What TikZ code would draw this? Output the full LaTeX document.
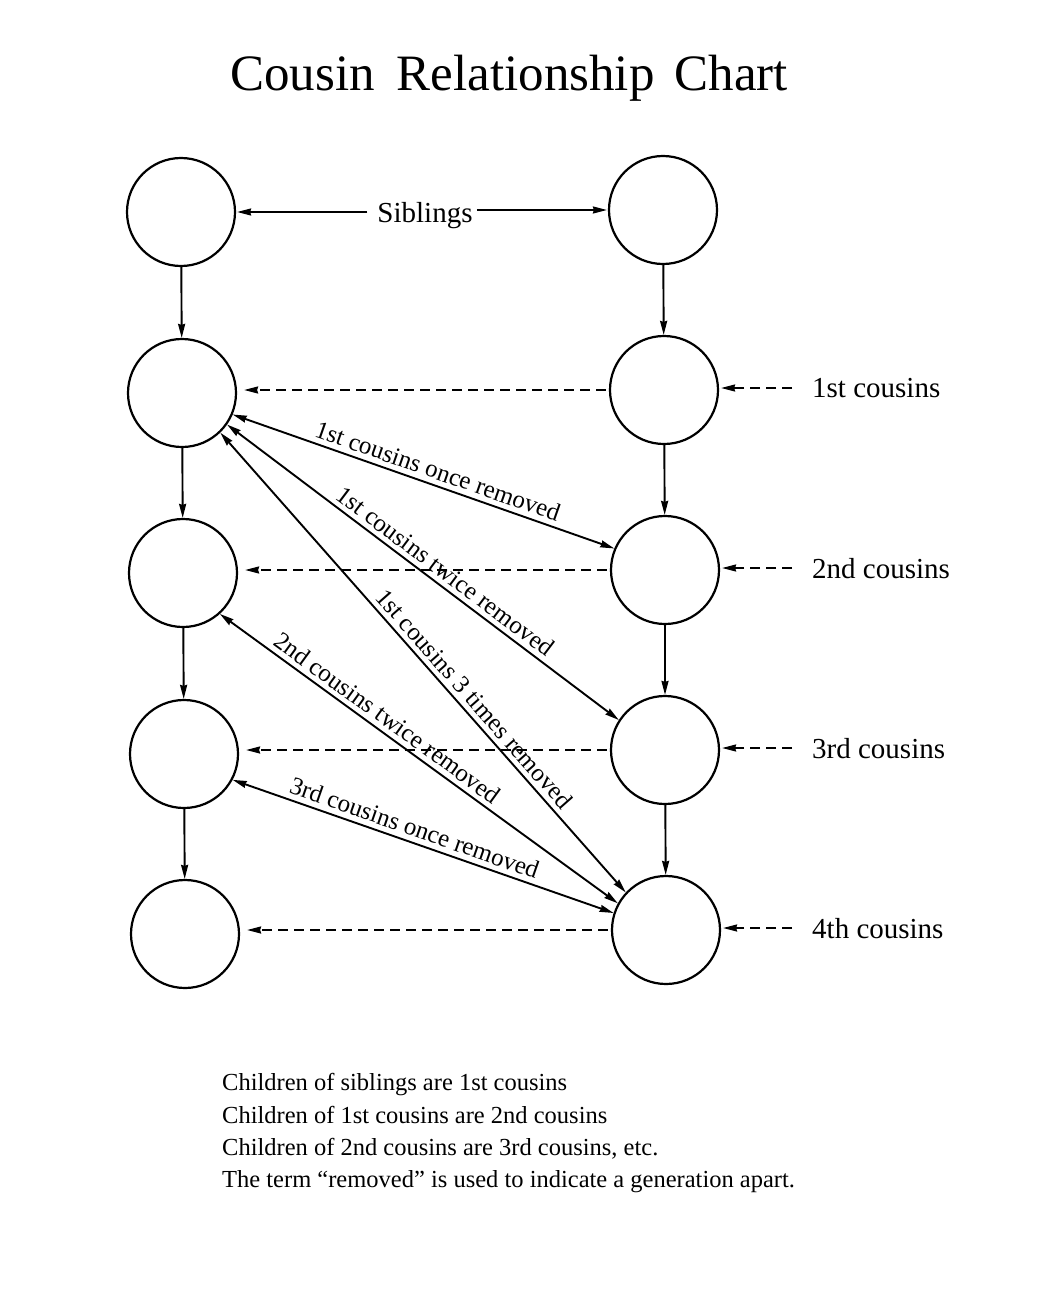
\documentclass[tikz,border=0pt]{standalone}
\usepackage{fontspec}
\setmainfont{Liberation Serif}
\usetikzlibrary{arrows.meta}
\begin{document}
\begin{tikzpicture}[x=1pt,y=-1pt,
  person/.style={circle,draw,line width=2.2pt,minimum size=108pt,inner sep=0pt},
  tip/.style={line width=1.9pt,-{Stealth[length=14pt,width=7pt,inset=1pt]}},
  twotip/.style={line width=1.9pt,{Stealth[length=14pt,width=7pt,inset=1pt]}-{Stealth[length=14pt,width=7pt,inset=1pt]}},
  dashtip/.style={tip,dash pattern=on 10pt off 6pt},
  lab/.style={font=\fontsize{29}{34}\selectfont,inner sep=0pt,text depth=0pt},
  rlab/.style={font=\fontsize{25}{30}\selectfont,sloped,above,inner sep=5pt},
  note/.style={font=\fontsize{24.5}{30}\selectfont,inner sep=0pt,anchor=base west}
]
\useasboundingbox[fill=white] (0,0) rectangle (1058,1316);

% title
\node[font=\fontsize{51}{60}\selectfont,anchor=base,inner sep=0pt] (title) at (509,91)
  {Cousin\hspace{22pt}Relationship\hspace{20pt}Chart};

% left column
\node[person] (L1) at (181,212) {};
\node[person] (L2) at (182,393) {};
\node[person] (L3) at (183,573) {};
\node[person] (L4) at (184,754) {};
\node[person] (L5) at (185,934) {};
% right column
\node[person] (R1) at (663,210) {};
\node[person] (R2) at (664,390) {};
\node[person] (R3) at (665,570) {};
\node[person] (R4) at (665,750) {};
\node[person] (R5) at (666,930) {};

% vertical arrows
\draw[tip] (L1) -- (L2);
\draw[tip] (L2) -- (L3);
\draw[tip] (L3) -- (L4);
\draw[tip] (L4) -- (L5);
\draw[tip] (R1) -- (R2);
\draw[tip] (R2) -- (R3);
\draw[tip] (R3) -- (R4);
\draw[tip] (R4) -- (R5);

% siblings
\node[lab] (sib) at (425,212) {Siblings};
\draw[tip,shorten <=10pt,shorten >=1pt] (sib.west |- L1) -- (L1);
\draw[tip,shorten <=4pt,shorten >=1pt] (sib.east |- R1) -- (R1);

% dashed horizontals
\draw[dashtip,shorten <=3pt,shorten >=7pt] (R2.west) -- (L2.east |- R2.west);
\draw[dashtip,shorten <=3pt,shorten >=7pt] (R3.west) -- (L3.east |- R3.west);
\draw[dashtip,shorten <=3pt,shorten >=7pt] (R4.west) -- (L4.east |- R4.west);
\draw[dashtip,shorten <=3pt,shorten >=7pt] (R5.west) -- (L5.east |- R5.west);

% right labels
\node[lab,anchor=west] (c1) at (812,388) {1st cousins};
\node[lab,anchor=west] (c2) at (812,568) {2nd cousins};
\node[lab,anchor=west] (c3) at (812,748) {3rd cousins};
\node[lab,anchor=west] (c4) at (812,928) {4th cousins};
\draw[dashtip,shorten <=20pt,shorten >=2pt] (c1.west) -- (R2.east |- c1.west);
\draw[dashtip,shorten <=20pt,shorten >=2pt] (c2.west) -- (R3.east |- c2.west);
\draw[dashtip,shorten <=20pt,shorten >=2pt] (c3.west) -- (R4.east |- c3.west);
\draw[dashtip,shorten <=20pt,shorten >=2pt] (c4.west) -- (R5.east |- c4.west);

% removed relations
\draw[twotip] (L2.-23) -- node[rlab,pos=0.525] {1st cousins once removed} (R3.157.5);
\draw[twotip] (L2.-35.5) -- node[rlab,pos=0.535] {1st cousins twice removed} (R4.147);
\draw[twotip] (L2.-46.5) -- node[rlab,pos=0.60] {1st cousins 3 times removed} (R5.137);
\draw[twotip] (L3.-48.5) -- node[rlab,pos=0.40] {2nd cousins twice removed} (R5.151);
\draw[twotip] (L4.-28) -- node[rlab,pos=0.465] {3rd cousins once removed} (R5.162);

% notes
\node[note] (n1) at (222,1090) {Children of siblings are 1st cousins};
\node[note] (n2) at (222,1123) {Children of 1st cousins are 2nd cousins};
\node[note] (n3) at (222,1155) {Children of 2nd cousins are 3rd cousins, etc.};
\node[note] (n4) at (222,1187) {The term “removed” is used to indicate a generation apart.};
\end{tikzpicture}
\end{document}
